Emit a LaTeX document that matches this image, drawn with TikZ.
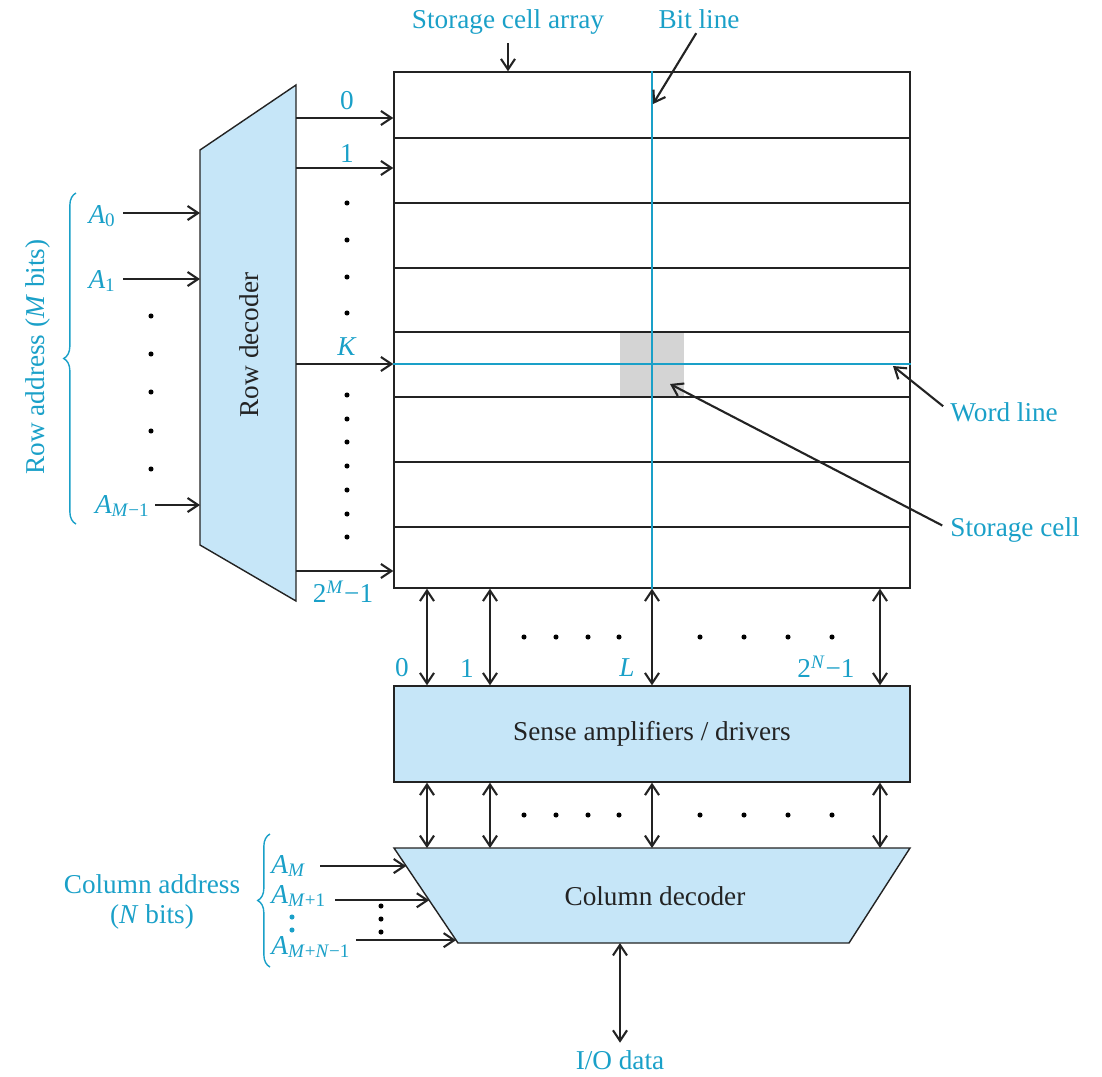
\documentclass[tikz,border=0pt]{standalone}
\usepackage{fontspec}
\setmainfont{Liberation Serif}
\usetikzlibrary{arrows.meta,decorations.pathreplacing,calc}
\definecolor{memcyan}{RGB}{26,160,200}
\definecolor{memfill}{RGB}{198,230,248}
\definecolor{cellgray}{RGB}{212,212,212}
\definecolor{ink}{RGB}{35,35,35}

\begin{document}
\begin{tikzpicture}[x=0.02cm, y=-0.02cm,
  lbl/.style={text=memcyan, inner sep=0pt, font=\fontsize{15.5}{16}\selectfont},
  txt/.style={text=ink, inner sep=0pt, font=\fontsize{15.5}{16}\selectfont},
  blk/.style={draw=ink, line width=0.8pt, fill=memfill},
  sig/.style={draw=ink, line width=1.2pt, -{Straight Barb[length=6pt,width=8pt]}},
  bus/.style={draw=ink, line width=1.2pt, {Straight Barb[length=6pt,width=8pt]}-{Straight Barb[length=6pt,width=8pt]}},
  wire/.style={draw=memcyan, line width=0.9pt},
  dotmark/.style={circle, fill=black, inner sep=0pt, minimum size=2.9pt},
  brc/.style={draw=memcyan, line width=0.8pt, decorate, decoration={brace, amplitude=7pt}}]
\useasboundingbox (0,0) rectangle (1102,1076);

\fill[cellgray] (620,332) rectangle (684,397);
\node[draw=ink, line width=0.8pt, minimum width=10.32cm, minimum height=10.32cm, inner sep=0pt] (array) at (652,330) {};
\foreach \y in {138,203,268,332,397,462,527}
  \draw[ink, line width=0.8pt] (394,\y) -- (910,\y);
\draw[wire] (array.north) -- (array.south);

\node[blk, minimum width=10.32cm, minimum height=1.92cm, inner sep=0pt] (sense) at (652,734) {};
\node[txt] at (sense) {Sense amplifiers / drivers};

\coordinate (rdNE) at (296,85);
\coordinate (rdSE) at (296,601);
\coordinate (rdSW) at (200,545);
\coordinate (rdNW) at (200,150);
\draw[blk] (rdNW) -- (rdNE) -- (rdSE) -- (rdSW) -- cycle;
\node[txt, rotate=90] (rowdec) at (249,345) {Row decoder};

\coordinate (cdNW) at (394,848);
\coordinate (cdNE) at (910,848);
\coordinate (cdSE) at (849,943);
\coordinate (cdSW) at (458,943);
\draw[blk] (cdNW) -- (cdNE) -- (cdSE) -- (cdSW) -- cycle;
\node[txt] (coldec) at (655,896) {Column decoder};

\foreach \y/\n in {118/0,168/1,364/k,571/last} {
  \coordinate (ro\n) at (296,\y);
  \draw[sig] (ro\n) -- (ro\n -| array.west);
}
\draw[wire] (rok -| array.west) -- (rok -| array.east);
\node[lbl] at (347,101) {0};
\node[lbl] at (347,154) {1};
\node[lbl] at (347,347) {\textit{K}};
\node[lbl] at (343,592) {2\textsuperscript{\textit{M}}−1};
\foreach \y in {203,240,277,313,395,419,442,466,490,514,537}
  \node[dotmark] at (347,\y) {};

\node[lbl, anchor=base east] (a0) at (116,223) {\textit{A}\textsubscript{0}};
\node[lbl, anchor=base east] (a1) at (116,288) {\textit{A}\textsubscript{1}};
\node[lbl, anchor=base east] (am) at (150,513) {\textit{A}\textsubscript{\textit{M}−1}};
\coordinate (ri0) at (200,213);
\coordinate (ri1) at (200,279);
\coordinate (rim) at (200,505);
\draw[sig, shorten <=4pt] (ri0 -| a0.east) -- (ri0);
\draw[sig, shorten <=4pt] (ri1 -| a1.east) -- (ri1);
\draw[sig, shorten <=3pt] (rim -| am.east) -- (rim);
\foreach \y in {316,354,392,431,469}
  \node[dotmark] at (151,\y) {};
\draw[brc] (76,524) -- (76,193);
\node[lbl, rotate=90] (rowaddr) at (38,357) {Row address (\textit{M} bits)};

\foreach \x/\n in {427/0,490/1,652/l,880/n} {
  \coordinate (col\n) at (\x,0);
  \draw[bus] (array.south -| col\n) -- (sense.north -| col\n);
  \draw[bus] (sense.south -| col\n) -- (cdNW -| col\n);
}
\node[lbl] at (402,668) {0};
\node[lbl] at (467,668) {1};
\node[lbl] at (627,668) {\textit{L}};
\node[lbl] at (826,667) {2\textsuperscript{\textit{N}}−1};
\foreach \x in {524,556,588,619,700,744,788,832} {
  \node[dotmark] at (\x,637) {};
  \node[dotmark] at (\x,815) {};
}

\node[lbl, anchor=base west] (acm) at (271,873) {\textit{A}\textsubscript{\textit{M}}};
\node[lbl, anchor=base west] (acm1) at (271,903) {\textit{A}\textsubscript{\textit{M}+1}};
\node[lbl, anchor=base west] (acmn) at (271,954) {\textit{A}\textsubscript{\textit{M}+\textit{N}−1}};
\node[dotmark, fill=memcyan] at (292,917) {};
\node[dotmark, fill=memcyan] at (292,930) {};
\coordinate (ci0) at ($(cdNW)!0.19!(cdSW)$);
\coordinate (ci1) at ($(cdNW)!0.55!(cdSW)$);
\coordinate (cin) at ($(cdNW)!0.97!(cdSW)$);
\draw[sig, shorten <=8pt] (ci0 -| acm.east) -- (ci0);
\draw[sig, shorten <=5pt] (ci1 -| acm1.east) -- (ci1);
\draw[sig, shorten <=3pt] (cin -| acmn.east) -- (cin);
\foreach \y in {906,919,932}
  \node[dotmark] at (381,\y) {};
\draw[brc] (270,967) -- (270,834);
\node[lbl, align=center] (coladdr) at (152,902) {Column address\\[1pt](\textit{N} bits)};

\node[lbl, anchor=base] (io) at (620,1069) {I/O data};
\draw[bus, shorten >=4pt] (cdSW -| io) -- (io.north);

\node[lbl, anchor=base] (scalbl) at (508,28) {Storage cell array};
\draw[sig, shorten <=5pt] (scalbl.south) -- (scalbl.south |- array.north);
\node[lbl, anchor=base] (bllbl) at (699,28) {Bit line};
\coordinate (blpt) at (653,104);
\draw[sig, shorten <=3pt] (bllbl.south) -- (blpt);
\node[lbl, anchor=base west] (wllbl) at (950,421) {Word line};
\coordinate (wlpt) at (893,366);
\draw[sig, shorten <=5pt] (wllbl.west) -- (wlpt);
\node[lbl, anchor=base west] (sclbl) at (950,536) {Storage cell};
\coordinate (scpt) at (670,384);
\draw[sig, shorten <=5pt] (sclbl.west) -- (scpt);
\end{tikzpicture}
\end{document}
